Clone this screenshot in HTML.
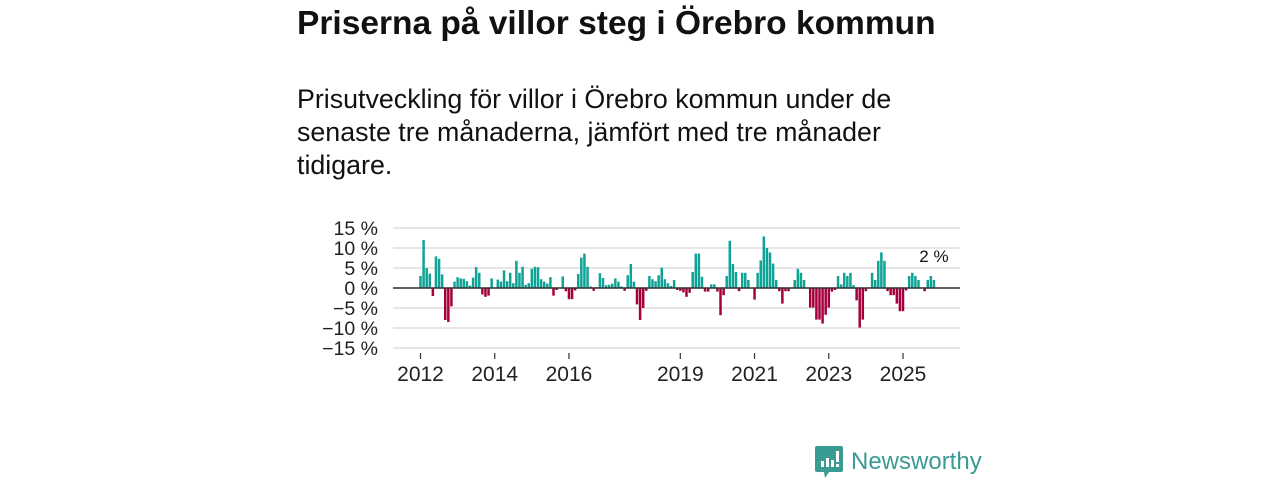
<!DOCTYPE html>
<html><head><meta charset="utf-8"><style>
body{margin:0;width:1280px;height:480px;background:#fff;font-family:"Liberation Sans","DejaVu Sans",sans-serif;overflow:hidden;position:relative}
#title{position:absolute;left:297px;top:5px;font-size:33.5px;font-weight:bold;color:#111;margin:0;white-space:nowrap}
#sub{position:absolute;left:297px;top:83px;width:700px;font-size:26.8px;line-height:33px;color:#111;margin:0;white-space:nowrap}
svg{position:absolute;left:0;top:0}
#logo{position:absolute;left:815px;top:446px;display:flex;align-items:center}
#logo span{font-size:24px;color:#3a9b92;margin-left:8px;font-weight:500}
</style></head><body>
<h1 id="title">Priserna på villor steg i Örebro kommun</h1>
<p id="sub">Prisutveckling för villor i Örebro kommun under de<br>senaste tre månaderna, jämfört med tre månader<br>tidigare.</p>
<svg id="chart" width="1280" height="480"></svg>
<div id="logo">
<svg style="position:static" width="28" height="32" viewBox="0 0 28 32"><path d="M2 0h24a2 2 0 0 1 2 2v22a2 2 0 0 1-2 2H14l-4 6-1-6H2a2 2 0 0 1-2-2V2a2 2 0 0 1 2-2z" fill="#3a9b92"/><rect x="6" y="15" width="3" height="6" fill="#fff"/><rect x="11" y="12" width="3" height="9" fill="#fff"/><rect x="16" y="14" width="3" height="7" fill="#fff"/><rect x="21" y="5" width="3" height="11" fill="#fff"/><rect x="21" y="18" width="3" height="3" fill="#fff"/></svg>
<span>Newsworthy</span></div>
<script>
const values=[3,12,5,3.6,-2,7.9,7.3,3.4,-8,-8.5,-4.6,1.6,2.7,2.4,2.3,1.7,0.6,2.6,5.2,3.8,-1.6,-2.2,-1.9,2.4,0,2.1,1.6,4.4,1.7,3.8,1.2,6.8,3.8,5.3,0.8,1.2,4.8,5.3,5.2,2.2,1.6,1.1,2.7,-1.9,-0.5,0,2.9,-0.8,-2.8,-2.8,-0.6,3.5,7.6,8.6,5.3,0.4,-0.7,0.2,3.7,2.5,0.7,0.8,1.1,2.4,1.6,0.4,-0.7,3.2,6,1.6,-4.1,-8,-5,-0.7,3,2.2,1.7,3.2,5.1,2.2,1.2,0.5,2,-0.5,-0.7,-1.1,-2.2,-1.2,4,8.6,8.6,2.8,-0.9,-0.9,0.9,0.9,-0.9,-6.8,-1.8,3,11.8,6,4,-0.8,3.8,3.8,2,0,-2.9,3.8,6.9,12.9,10,8.9,6.1,2,-0.8,-3.9,-0.8,-0.8,0,2,4.8,3.8,2,0,-4.9,-4.9,-7.9,-7.9,-8.9,-6.7,-4.9,-0.9,-0.5,3,0.9,3.8,3,3.8,0.7,-3.1,-9.9,-7.9,-0.8,0,3.8,2,6.8,8.9,6.8,-0.8,-1.8,-1.8,-3.9,-5.8,-5.8,-0.6,3,3.8,3,2,0,-0.8,2,3,2];
const startYear=2012;
const yTicks=[15,10,5,0,-5,-10,-15];
const yTickLabels=["15 %","10 %","5 %","0 %","−5 %","−10 %","−15 %"];
const xTickYears=[2012,2014,2016,2019,2021,2023,2025];
const lastLabel="2 %";
const NS="http://www.w3.org/2000/svg";
const svg=document.getElementById('chart');
const X0=420.5,PXM=3.093,Y0=288,PXP=4;
const x=m=>X0+PXM*m;
const y=v=>Y0-v*PXP;
function el(t,a){const e=document.createElementNS(NS,t);for(const k in a)e.setAttribute(k,a[k]);svg.appendChild(e);return e;}
yTicks.forEach((t,i)=>{
 const g=el('line',{x1:393,x2:960,y1:y(t),y2:y(t),stroke:'#dedede','stroke-width':1.5});
 
 
 const l=el('text',{x:378,y:y(t)+7,'text-anchor':'end','font-size':19.5,fill:'#222'});
 l.textContent=yTickLabels[i];
 
 
});
values.forEach((v,i)=>{
 if(v===0)return;
 const r=el('rect',{x:x(i)-1.25,width:2.5,y:Math.min(y(v),Y0),height:Math.abs(v)*PXP,fill:v>0?'#0fa396':'#a5003d'});
 
 
});
const z=el('line',{x1:393,x2:960,y1:Y0,y2:Y0,stroke:'#333','stroke-width':1.5});


xTickYears.forEach(yr=>{
 const xx=x((yr-startYear)*12);
 const t=el('line',{x1:xx,x2:xx,y1:353,y2:359,stroke:'#333','stroke-width':1.2});
 
 
 const l=el('text',{x:xx,y:381,'text-anchor':'middle','font-size':21,fill:'#222'});
 l.textContent=yr;
 
 
});
const last=values.length-1;
const ll=el('text',{x:x(last),y:y(values[last])-18,'text-anchor':'middle','font-size':17,fill:'#111'});
ll.textContent=lastLabel;


</script>
</body></html>
